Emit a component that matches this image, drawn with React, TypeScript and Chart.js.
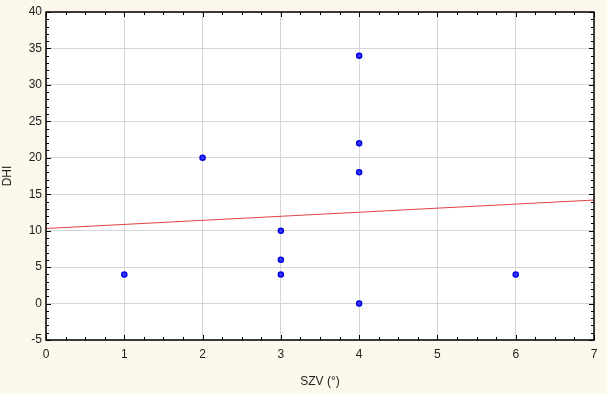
import React, { useEffect, useRef } from "react";
import { Chart, registerables } from "chart.js";

Chart.register(...registerables);

const szv: number[] = [1, 2, 3, 3, 3, 4, 4, 4, 4, 6];
const dhi: number[] = [4, 20, 10, 6, 4, 34, 22, 18, 0, 4];
const fitX: number[] = [0, 7];
const fitY: number[] = [10.3, 14.2];
const xTicks: number[] = [0, 1, 2, 3, 4, 5, 6, 7];
const yTicks: number[] = [-5, 0, 5, 10, 15, 20, 25, 30, 35, 40];

const FONT = "'Liberation Sans', Arial, sans-serif";

const framePlugin = {
  id: "frame",
  beforeDraw(chart: any) {
    const { ctx, chartArea: a, width, height } = chart;
    ctx.save();
    ctx.fillStyle = "#FCF8EC";
    ctx.fillRect(0, 0, width, height);
    ctx.fillStyle = "#FFFFFF";
    ctx.fillRect(a.left, a.top, a.right - a.left, a.bottom - a.top);
    ctx.restore();
  },
  afterDatasetsDraw(chart: any) {
    const { ctx, chartArea: a, scales } = chart;
    const xs = scales.x;
    const ys = scales.y;
    ctx.save();
    ctx.strokeStyle = "#000";
    ctx.lineWidth = 1;
    ctx.beginPath();
    for (let v = 0; v <= 7.0001; v += 0.25) {
      const px = Math.round(xs.getPixelForValue(v)) + 0.5;
      const major = Math.abs(v - Math.round(v)) < 1e-6;
      const len = major ? 5 : 3;
      ctx.moveTo(px, a.bottom);
      ctx.lineTo(px, a.bottom - len);
      ctx.moveTo(px, a.top);
      ctx.lineTo(px, a.top + len);
    }
    for (let v = -5; v <= 40.0001; v += 1) {
      const py = Math.round(ys.getPixelForValue(v)) + 0.5;
      const major = v % 5 === 0;
      const len = major ? 5 : 3;
      ctx.moveTo(a.left, py);
      ctx.lineTo(a.left + len, py);
      ctx.moveTo(a.right, py);
      ctx.lineTo(a.right - len, py);
    }
    ctx.stroke();
    ctx.lineWidth = 1.5;
    ctx.strokeRect(a.left, a.top, a.right - a.left, a.bottom - a.top);
    ctx.restore();
  },
};

export default function App() {
  const ref = useRef<HTMLCanvasElement | null>(null);
  useEffect(() => {
    document.body.style.margin = "0";
    if (!ref.current) return;
    const chart = new Chart(ref.current, {
      type: "scatter",
      data: {
        datasets: [
          {
            type: "line",
            data: fitX.map((x, i) => ({ x, y: fitY[i] })),
            borderColor: "#E04040",
            borderWidth: 1,
            pointRadius: 0,
            fill: false,
          } as any,
          {
            data: szv.map((x, i) => ({ x, y: dhi[i] })),
            backgroundColor: "#3A3AFF",
            borderColor: "#0000E0",
            borderWidth: 1.5,
            pointRadius: 2.5,
          },
        ],
      },
      plugins: [framePlugin],
      options: {
        animation: false,
        responsive: false,
        layout: { padding: { left: 0, right: 13, top: 12, bottom: 0 } },
        plugins: { legend: { display: false }, tooltip: { enabled: false } },
        scales: {
          x: {
            type: "linear",
            min: 0,
            max: 7,
            afterBuildTicks: (s: any) => {
              s.ticks = xTicks.map((v) => ({ value: v }));
            },
            afterFit: (s: any) => {
              s.height = 54;
            },
            ticks: {
              padding: 7,
              color: "#222",
              font: { family: FONT, size: 12 },
              maxRotation: 0,
            },
            grid: { color: "#D6D6D6", drawTicks: false, lineWidth: 1 },
            border: { display: false },
            title: {
              display: true,
              text: "SZV (°)",
              color: "#222",
              font: { family: FONT, size: 12 },
              padding: { top: 8, bottom: 5 },
            },
          },
          y: {
            type: "linear",
            min: -5,
            max: 40,
            afterBuildTicks: (s: any) => {
              s.ticks = yTicks.map((v) => ({ value: v }));
            },
            afterFit: (s: any) => {
              s.width = 46;
            },
            ticks: {
              padding: 4,
              color: "#222",
              font: { family: FONT, size: 12 },
            },
            grid: { color: "#D6D6D6", drawTicks: false, lineWidth: 1 },
            border: { display: false },
            title: {
              display: true,
              text: "DHI",
              color: "#222",
              font: { family: FONT, size: 12 },
              padding: { top: 0, bottom: 8 },
            },
          },
        },
      },
    });
    return () => chart.destroy();
  }, []);
  return <canvas ref={ref} width={607} height={394} style={{ display: "block" }} />;
}
